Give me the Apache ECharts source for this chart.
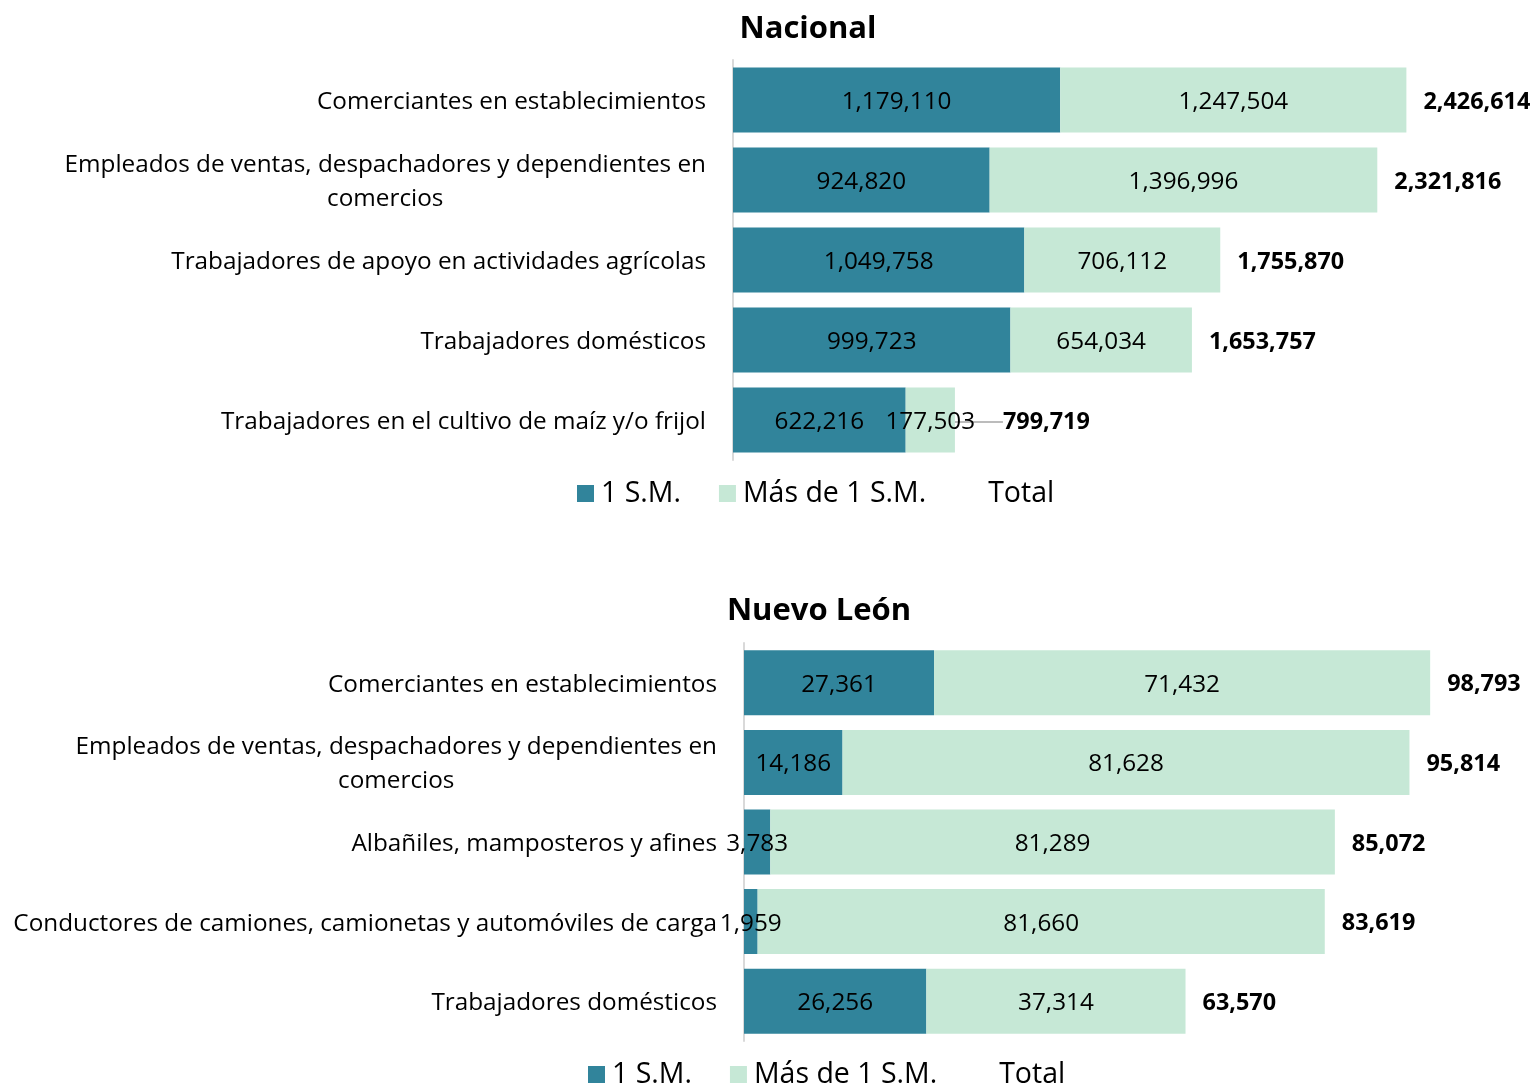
<!DOCTYPE html>
<html>
<head>
<meta charset="utf-8">
<script src="https://cdn.jsdelivr.net/npm/echarts@6/dist/echarts.min.js"></script>
<style>
  html, body { margin: 0; padding: 0; background: #fff; }
  #chart { width: 1534px; height: 1084px; }
</style>
</head>
<body>
<div id="chart"></div>
<script>
// Nacional
const nacCategories = [
  'Comerciantes en establecimientos',
  'Empleados de ventas, despachadores y dependientes en\ncomercios',
  'Trabajadores de apoyo en actividades agrícolas',
  'Trabajadores domésticos',
  'Trabajadores en el cultivo de maíz y/o frijol'
]
const nacUnSM = [1179110, 924820, 1049758, 999723, 622216]
const nacMasUnSM = [1247504, 1396996, 706112, 654034, 177503]
const nacTotal = [2426614, 2321816, 1755870, 1653757, 799719]

// Nuevo León
const nlCategories = [
  'Comerciantes en establecimientos',
  'Empleados de ventas, despachadores y dependientes en\ncomercios',
  'Albañiles, mamposteros y afines',
  'Conductores de camiones, camionetas y automóviles de carga',
  'Trabajadores domésticos'
]
const nlUnSM = [27361, 14186, 3783, 1959, 26256]
const nlMasUnSM = [71432, 81628, 81289, 81660, 37314]
const nlTotal = [98793, 95814, 85072, 83619, 63570]

const DARK = '#31849b'
const LIGHT = '#c6e8d6'
const FONT = '"Open Sans", "Noto Sans", sans-serif'
const FS = 24.3

const fmt = (v) => Number(v).toLocaleString('en-US')

function catLabel(txt) {
  return txt.split('\n').map((l) => '{c|' + l + '}').join('\n')
}

function seriesFor(idx, unSM, masUnSM, total) {
  const inner = { show: true, position: 'inside', offset: [0, 2], color: '#000', fontSize: FS,
    fontFamily: FONT, formatter: (p) => fmt(p.value) }
  // only the last Nacional total label was pushed out, with a leader line
  const totalData = total.map((v, i) =>
    idx === 0 && i === 4 ? { value: v, labelLine: { show: true } } : v)
  return [
    { name: '1 S.M.', type: 'bar', stack: 's' + idx, xAxisIndex: idx, yAxisIndex: idx,
      barWidth: 65, itemStyle: { color: DARK }, label: inner, data: unSM },
    { name: 'Más de 1 S.M.', type: 'bar', stack: 's' + idx, xAxisIndex: idx, yAxisIndex: idx,
      barWidth: 65, itemStyle: { color: LIGHT }, label: inner, data: masUnSM },
    { name: 'Total', type: 'bar', xAxisIndex: idx, yAxisIndex: idx, barWidth: 65, barGap: '-100%',
      itemStyle: { color: 'rgba(0,0,0,0)' }, z: 1,
      label: { show: true, position: 'right', distance: 17, color: '#000',
        fontWeight: 'bold', fontSize: 23.4, fontFamily: FONT, formatter: (p) => fmt(p.value) },
      labelLine: { show: false, lineStyle: { color: '#a6a6a6', width: 1.5 } },
      labelLayout: (p) => (idx === 0 && p.dataIndex === 4 ? { dx: 31, dy: 2 } : { dy: 2 }),
      data: totalData }
  ]
}

const legendText = { fontSize: 28.5, color: '#000', fontFamily: FONT, padding: [0, 0, 0, 2] }

const chart = echarts.init(document.getElementById('chart'))
chart.setOption({
  animation: false,
  title: [
    { text: 'Nacional', left: 803, textAlign: 'center', top: 9,
      textStyle: { fontSize: 31, fontWeight: 'bold', color: '#000', fontFamily: FONT } },
    { text: 'Nuevo León', left: 814, textAlign: 'center', top: 591,
      textStyle: { fontSize: 31, fontWeight: 'bold', color: '#000', fontFamily: FONT } }
  ],
  legend: [
    { left: 572, top: 474, itemWidth: 17, itemHeight: 17, itemGap: 38, icon: 'rect',
      textStyle: legendText, data: ['1 S.M.', 'Más de 1 S.M.', 'Total'] },
    { left: 583, top: 1055, itemWidth: 17, itemHeight: 17, itemGap: 38, icon: 'rect',
      textStyle: legendText, data: ['1 S.M.', 'Más de 1 S.M.', 'Total'] }
  ],
  grid: [
    { left: 733, top: 60, width: 777, height: 400 },
    { left: 744, top: 643, width: 764, height: 398 }
  ],
  xAxis: [
    { gridIndex: 0, type: 'value', min: 0, max: 2800000, show: false },
    { gridIndex: 1, type: 'value', min: 0, max: 110000, show: false }
  ],
  yAxis: [nacCategories, nlCategories].map((cats, i) => ({
    gridIndex: i, type: 'category', inverse: true, data: cats,
    axisLine: { show: true, lineStyle: { color: '#d9d9d9', width: 2 } },
    axisTick: { show: false },
    axisLabel: {
      margin: 27, color: '#000', fontSize: FS, fontFamily: FONT, padding: [4, 0, 0, 0],
      formatter: catLabel,
      rich: { c: { align: 'center', fontSize: FS, fontFamily: FONT, color: '#000', lineHeight: 34 } }
    }
  })),
  series: [
    ...seriesFor(0, nacUnSM, nacMasUnSM, nacTotal),
    ...seriesFor(1, nlUnSM, nlMasUnSM, nlTotal)
  ]
})
</script>
</body>
</html>
